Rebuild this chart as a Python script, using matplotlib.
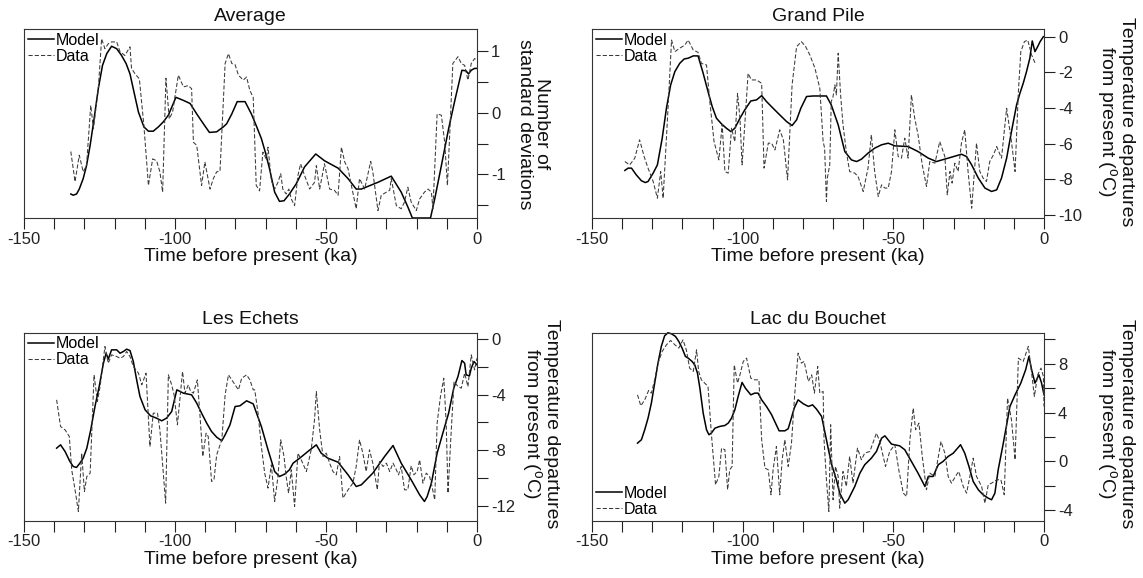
import numpy as np
import matplotlib
matplotlib.use("Agg")
import matplotlib.pyplot as plt

plt.rcParams['font.family'] = ['Liberation Sans', 'DejaVu Sans']
plt.rcParams['mathtext.default'] = 'regular'

# ---- Average (number of standard deviations) ----
avg_model_age = [-134.5, -133.7, -132.6, -131.7, -130.4, -129.3, -128.1, -126.8, -125.4, -124.0,
                 -122.6, -121.0, -119.3, -117.7, -116.2, -114.9, -113.6, -112.1, -110.3, -108.8,
                 -107.2, -105.5, -103.9, -102.2, -99.7, -97.2, -95.0, -92.8, -90.6, -88.6,
                 -86.2, -84.0, -82.9, -81.2, -79.4, -76.8, -74.7, -73.1, -71.4, -70.1,
                 -68.7, -67.0, -65.4, -63.9, -62.1, -59.8, -57.1, -53.4, -50.5, -46.0,
                 -42.7, -40.0, -38.3, -32.8, -28.4, -25.1, -22.9, -21.4, -15.4, -14.0,
                 -11.8, -9.4, -7.2, -5.0, -3.6, -2.8, -1.9, -0.8, 0.0]
avg_model = [-1.32, -1.34, -1.32, -1.24, -1.07, -0.86, -0.53, -0.10, 0.39, 0.77,
             0.96, 1.08, 1.04, 0.93, 0.80, 0.63, 0.34, 0.01, -0.23, -0.30,
             -0.30, -0.23, -0.15, -0.04, 0.25, 0.20, 0.15, -0.02, -0.18, -0.32,
             -0.31, -0.23, -0.18, -0.02, 0.18, 0.18, -0.02, -0.21, -0.42, -0.64,
             -0.91, -1.29, -1.44, -1.43, -1.32, -1.15, -0.88, -0.67, -0.78, -0.90,
             -1.07, -1.24, -1.24, -1.13, -1.03, -1.29, -1.53, -1.71, -1.71, -1.40,
             -0.86, -0.26, 0.23, 0.69, 0.68, 0.63, 0.69, 0.72, 0.72]
avg_data_age = [-134.5, -133.1, -131.7, -130.4, -129.3, -127.9, -127.0, -125.4, -124.3, -123.2,
                -122.1, -121.0, -119.3, -118.2, -116.6, -114.9, -114.4, -113.2, -111.8, -110.3,
                -108.8, -107.4, -106.1, -105.0, -104.1, -103.0, -101.9, -100.8, -98.9, -97.2,
                -95.6, -94.5, -93.9, -92.8, -91.2, -90.1, -88.4, -87.3, -86.2, -85.1,
                -83.4, -82.3, -81.2, -80.1, -79.0, -77.4, -76.3, -75.2, -74.1, -73.1,
                -72.0, -70.9, -69.8, -69.2, -68.1, -67.0, -65.9, -65.0, -64.3, -63.2,
                -62.3, -61.5, -60.4, -59.3, -58.4, -57.1, -55.4, -53.8, -53.2, -52.1,
                -50.5, -48.8, -47.2, -46.0, -44.9, -43.8, -42.7, -41.6, -40.0, -38.9,
                -37.2, -35.2, -34.5, -32.8, -31.7, -30.0, -28.9, -28.4, -26.7, -25.1,
                -24.0, -22.9, -21.8, -20.1, -19.0, -17.4, -16.2, -15.1, -14.6, -13.2,
                -11.8, -10.7, -9.8, -9.1, -8.0, -6.3, -5.2, -4.1, -3.0, -1.9, -0.8, 0.0]
avg_data = [-0.63, -1.12, -0.69, -0.96, -0.86, 0.12, -0.26, 0.39, 1.20, 1.04,
            1.12, 1.15, 1.15, 0.99, 0.93, 1.07, 0.72, 0.63, 0.55, -0.21,
            -1.18, -0.75, -0.78, -0.96, -1.29, 0.56, -0.10, 0.01, 0.61, 0.42,
            0.44, 0.39, -0.48, -0.53, -1.18, -0.80, -1.24, -1.07, -0.96, -0.95,
            0.80, 0.96, 0.80, 0.78, 0.61, 0.53, 0.58, 0.36, 0.25, -1.18,
            -1.27, -0.64, -0.75, -0.56, -1.10, -1.24, -1.13, -0.99, -1.24, -1.32,
            -1.24, -1.40, -1.51, -1.02, -0.83, -1.02, -1.24, -1.13, -0.86, -1.24,
            -0.83, -1.24, -1.26, -1.34, -0.56, -0.80, -0.91, -1.18, -1.56, -1.07,
            -1.24, -0.79, -0.96, -1.59, -1.34, -1.29, -1.26, -1.07, -1.51, -1.56,
            -1.45, -1.21, -1.45, -1.59, -1.40, -1.29, -1.24, -1.29, -1.56, -0.02,
            -0.04, -0.48, -1.18, -0.42, 0.80, 0.91, 0.80, 0.77, 0.53, 0.80, 0.88, 0.85]

# ---- Grand Pile (deg C) ----
gp_model_age = [-139.1, -138.0, -136.9, -135.3, -133.6, -132.3, -131.4, -129.7, -128.3, -126.7,
                -125.3, -123.9, -122.5, -120.9, -119.4, -118.1, -116.4, -114.8, -113.1, -111.5,
                -110.1, -108.7, -107.0, -105.4, -103.9, -102.6, -100.9, -99.3, -97.3, -95.4,
                -93.7, -92.1, -89.9, -87.7, -85.4, -83.6, -82.1, -80.7, -78.8, -76.6,
                -72.2, -70.6, -68.3, -66.1, -63.9, -62.2, -60.6, -58.4, -56.2, -53.9,
                -51.7, -49.5, -45.1, -41.8, -38.4, -35.7, -31.8, -27.4, -25.7, -24.0,
                -21.8, -19.6, -17.4, -15.7, -14.1, -12.4, -10.8, -9.1, -8.0, -6.9,
                -5.8, -4.7, -3.9, -3.0, -2.1, -1.3, -0.2]
gp_model = [-7.51, -7.38, -7.38, -7.76, -8.09, -8.19, -8.13, -7.66, -7.20, -5.70,
            -4.02, -2.71, -1.96, -1.50, -1.25, -1.21, -1.08, -1.08, -2.06, -3.08,
            -3.93, -4.58, -4.90, -5.14, -5.33, -5.14, -4.58, -4.11, -3.61, -3.55,
            -3.31, -3.64, -4.02, -4.39, -4.77, -4.99, -4.67, -4.02, -3.36, -3.33,
            -3.33, -3.83, -4.95, -6.45, -6.92, -7.01, -6.88, -6.54, -6.26, -6.07,
            -5.98, -6.13, -6.17, -6.45, -6.82, -7.01, -6.82, -6.60, -6.73, -7.20,
            -7.94, -8.50, -8.69, -8.60, -7.94, -6.82, -5.33, -3.83, -3.18, -2.62,
            -1.96, -1.21, -0.24, -0.84, -0.56, -0.28, 0.0]
gp_data_age = [-139.1, -137.5, -135.8, -134.2, -132.7, -131.4, -129.7, -128.3, -127.2, -126.4,
               -125.0, -123.6, -122.5, -120.9, -119.2, -118.1, -116.4, -114.8, -113.7, -112.0,
               -110.9, -109.5, -107.9, -106.8, -105.9, -104.8, -103.7, -102.6, -101.7, -100.9,
               -100.2, -99.3, -98.2, -97.1, -95.4, -94.6, -93.7, -92.9, -91.5, -90.4,
               -89.3, -87.7, -86.5, -85.1, -83.6, -82.1, -80.5, -79.1, -77.7, -76.0,
               -74.4, -73.3, -72.8, -72.2, -71.9, -71.1, -70.6, -70.0, -69.4, -68.9,
               -68.3, -67.5, -66.7, -65.6, -64.5, -62.8, -61.7, -60.0, -58.4, -57.3,
               -56.2, -55.0, -53.9, -52.8, -51.7, -50.6, -49.5, -48.4, -47.3, -46.2,
               -45.1, -44.0, -42.9, -41.8, -40.4, -39.0, -37.9, -36.2, -34.6, -32.9,
               -32.1, -31.2, -30.5, -29.6, -28.5, -27.4, -26.3, -25.2, -24.0, -22.4,
               -21.3, -20.2, -19.1, -18.0, -16.8, -15.7, -14.1, -12.4, -10.8, -9.6,
               -8.5, -7.7, -6.5, -5.4, -4.1, -2.8]
gp_data = [-7.01, -7.20, -6.82, -5.79, -6.73, -7.38, -8.13, -9.07, -7.57, -9.07,
           -4.77, -0.19, -0.84, -0.65, -0.47, -0.19, -0.75, -0.88, -1.50, -1.59,
           -3.64, -5.89, -6.92, -4.92, -7.57, -7.66, -5.14, -5.89, -3.18, -4.58,
           -7.20, -4.95, -2.06, -2.43, -2.43, -2.52, -2.62, -7.38, -5.98, -5.98,
           -6.36, -5.23, -5.79, -8.04, -2.71, -0.56, -0.28, -0.56, -1.03, -1.78,
           -2.90, -5.89, -6.26, -9.25, -7.94, -7.20, -3.64, -3.36, -2.71, -3.27,
           -0.93, -3.27, -4.95, -6.45, -7.57, -7.66, -7.85, -8.69, -7.38, -5.51,
           -7.57, -8.97, -8.32, -8.50, -8.50, -7.57, -5.23, -6.73, -6.82, -5.70,
           -6.82, -3.27, -4.58, -5.51, -7.20, -8.41, -7.01, -7.10, -5.89, -6.73,
           -8.88, -7.57, -8.22, -7.10, -7.57, -5.98, -5.23, -7.57, -9.63, -5.98,
           -7.57, -7.94, -8.13, -7.01, -6.64, -6.17, -6.82, -4.02, -5.89, -7.57,
           -3.08, -0.84, -0.28, -0.19, -1.03, -1.55]

# ---- Les Echets (deg C) ----
le_model_age = [-139.2, -137.9, -136.4, -134.8, -133.7, -132.6, -131.5, -130.4, -129.2, -127.9,
                -126.5, -125.1, -123.7, -122.8, -122.1, -121.0, -119.3, -118.2, -117.1, -116.0,
                -114.9, -113.8, -112.7, -111.6, -109.9, -108.1, -106.1, -104.4, -102.8, -101.1,
                -99.4, -97.2, -94.5, -92.8, -91.2, -89.5, -87.9, -86.2, -84.5, -83.4,
                -81.8, -80.1, -78.5, -76.3, -74.1, -71.4, -69.2, -67.0, -65.4, -63.7,
                -62.1, -60.9, -58.7, -56.0, -53.2, -51.6, -49.4, -46.0, -42.7, -40.0,
                -38.3, -34.5, -30.6, -27.8, -25.1, -21.8, -19.0, -17.4, -16.5, -15.1,
                -13.2, -11.0, -9.4, -7.7, -6.3, -5.0, -4.1, -3.6, -2.5, -1.9, -1.0, 0.0]
le_model = [-7.85, -7.61, -8.09, -8.81, -9.17, -9.24, -8.93, -8.57, -7.85, -6.53,
            -4.85, -3.41, -1.73, -1.01, -1.44, -0.77, -0.77, -1.01, -0.89, -0.72,
            -0.82, -1.61, -2.93, -4.13, -5.09, -5.52, -5.69, -5.88, -5.69, -5.21,
            -3.65, -3.89, -4.01, -4.61, -5.33, -6.05, -6.65, -7.06, -7.32, -6.89,
            -6.17, -4.85, -4.80, -4.44, -4.66, -6.29, -7.97, -9.53, -9.89, -9.72,
            -9.41, -8.93, -8.57, -8.09, -7.61, -8.21, -8.57, -8.86, -9.77, -10.61,
            -10.49, -9.65, -8.45, -7.66, -8.93, -10.13, -11.21, -11.69, -11.33, -10.37,
            -8.21, -6.53, -5.33, -3.53, -2.69, -1.54, -1.73, -2.57, -2.64, -2.09, -1.61, -1.85]
le_data_age = [-139.2, -137.9, -136.4, -135.0, -134.2, -133.1, -132.0, -130.9, -130.0, -129.2,
               -128.1, -126.8, -125.7, -124.8, -123.2, -122.1, -121.0, -119.3, -118.2, -117.1,
               -116.0, -114.9, -113.8, -112.1, -111.0, -109.6, -108.3, -107.2, -105.8, -105.0,
               -103.1, -102.2, -101.1, -100.3, -99.2, -98.3, -97.5, -96.7, -95.6, -94.8,
               -93.9, -92.6, -91.7, -90.8, -89.7, -89.0, -87.9, -87.1, -86.2, -84.5,
               -83.4, -82.3, -81.2, -80.1, -79.0, -77.9, -76.3, -75.2, -74.1, -73.6,
               -72.5, -71.4, -70.3, -69.2, -68.1, -67.0, -65.9, -65.0, -63.9, -63.2,
               -62.4, -61.5, -60.4, -59.3, -58.2, -56.5, -54.9, -53.8, -53.2, -52.1,
               -51.0, -49.9, -48.8, -47.7, -46.6, -45.5, -44.4, -42.7, -41.1, -40.0,
               -38.9, -37.8, -36.7, -35.6, -34.5, -33.0, -32.3, -31.1, -30.0, -28.9,
               -27.8, -26.7, -26.0, -25.1, -24.0, -22.9, -21.8, -20.9, -19.8, -19.0,
               -17.9, -16.8, -15.7, -14.9, -14.0, -13.2, -12.1, -11.0, -10.2, -9.6,
               -8.7, -7.6, -6.3, -5.2, -4.1, -3.0, -1.9, -0.8, 0.0]
le_data = [-4.37, -6.29, -6.53, -7.01, -9.41, -10.85, -12.41, -8.21, -10.97, -9.89,
           -9.65, -2.57, -4.49, -3.41, -0.53, -1.73, -1.13, -1.25, -1.37, -1.25,
           -0.89, -1.25, -1.97, -2.45, -3.29, -2.45, -7.73, -5.33, -5.33, -6.53,
           -11.81, -2.57, -3.29, -4.01, -6.17, -4.13, -2.33, -3.89, -3.29, -3.77,
           -3.89, -2.93, -5.57, -8.45, -6.77, -7.01, -10.25, -10.13, -8.33, -7.25,
           -4.01, -2.57, -2.93, -3.29, -3.65, -2.81, -2.57, -2.93, -3.65, -3.65,
           -5.33, -7.73, -9.65, -10.73, -9.05, -11.69, -9.89, -7.25, -8.45, -9.89,
           -11.09, -9.41, -12.05, -8.21, -8.69, -9.53, -7.97, -5.81, -3.77, -6.53,
           -8.45, -8.21, -8.93, -9.53, -9.77, -8.45, -11.45, -10.85, -10.37, -9.17,
           -7.25, -8.21, -9.53, -7.97, -8.93, -10.85, -8.81, -9.17, -8.93, -9.53,
           -8.93, -9.41, -9.77, -9.17, -10.85, -10.85, -9.12, -9.77, -9.53, -8.69,
           -10.37, -9.65, -9.89, -10.61, -11.57, -6.05, -4.13, -2.81, -6.05, -11.09,
           -7.25, -3.05, -3.41, -3.53, -2.45, -3.41, -1.13, -2.21, -1.37]

# ---- Lac du Bouchet (deg C) ----
lb_model_age = [-134.9, -133.6, -132.5, -131.4, -130.3, -129.2, -128.1, -127.0, -125.9, -124.8,
                -123.6, -122.3, -121.2, -120.1, -119.0, -118.1, -116.8, -115.9, -115.0, -114.2,
                -113.1, -112.0, -111.2, -110.4, -109.2, -107.6, -105.9, -104.8, -103.7, -102.6,
                -101.5, -100.2, -99.1, -97.3, -96.0, -94.9, -93.7, -92.1, -90.4, -89.1,
                -87.9, -86.0, -84.9, -84.0, -82.9, -81.6, -79.9, -78.2, -76.8, -75.5,
                -73.8, -72.2, -70.6, -68.9, -67.8, -66.1, -65.0, -62.8, -61.1, -59.5,
                -57.3, -55.6, -53.9, -52.8, -50.6, -47.9, -46.2, -44.0, -41.8, -39.5,
                -38.4, -36.8, -35.1, -33.5, -31.8, -30.1, -27.7, -26.3, -24.9, -23.5,
                -21.8, -20.2, -18.5, -17.4, -16.3, -15.2, -13.5, -11.3, -9.6, -7.7,
                -6.1, -5.0, -4.1, -3.0, -1.7, -0.8, 0.0]
lb_model = [1.50, 1.78, 2.60, 3.55, 4.78, 6.42, 8.06, 9.43, 10.30, 10.55,
            10.46, 10.25, 9.84, 9.29, 8.61, 8.47, 8.20, 7.92, 7.24, 6.01,
            3.96, 2.60, 2.19, 2.32, 2.73, 2.87, 2.95, 3.14, 3.55, 4.23,
            5.33, 6.48, 6.01, 5.46, 5.60, 5.60, 5.05, 4.51, 3.83, 3.14,
            2.51, 2.51, 2.68, 3.42, 4.37, 5.05, 4.73, 4.51, 4.64, 4.29,
            3.69, 1.78, -0.14, -1.50, -2.60, -3.42, -3.14, -2.05, -0.96, -0.27,
            0.27, 0.82, 1.91, 2.10, 1.42, 1.28, 0.96, 0.0, -0.96, -2.05,
            -1.23, -1.23, -0.27, 0.0, 0.41, 0.68, 1.37, 0.68, -0.41, -1.64,
            -2.32, -2.73, -3.01, -3.14, -2.60, -0.68, 1.50, 4.51, 5.46, 6.42,
            7.51, 8.61, 7.51, 6.42, 7.10, 6.42, 5.46]
lb_data_age = [-134.9, -133.8, -132.5, -131.2, -130.3, -129.2, -128.1, -126.7, -125.3, -123.9,
               -122.5, -121.2, -119.8, -118.7, -117.6, -116.4, -115.3, -114.6, -113.7, -112.6,
               -111.5, -110.4, -109.0, -107.9, -107.0, -105.9, -105.0, -104.3, -103.5, -102.8,
               -101.7, -100.9, -99.8, -98.7, -97.3, -96.0, -94.6, -93.7, -92.6, -91.5,
               -90.6, -89.9, -88.8, -87.7, -86.9, -86.0, -84.9, -83.8, -82.7, -81.6,
               -80.5, -79.6, -78.2, -77.1, -76.2, -75.1, -74.4, -73.3, -73.0, -72.2,
               -71.4, -70.8, -70.0, -69.2, -68.3, -67.8, -66.7, -65.6, -64.5, -63.4,
               -61.9, -60.6, -59.5, -57.8, -55.6, -54.5, -52.6, -51.2, -49.5, -48.2,
               -46.7, -45.6, -44.5, -43.4, -42.6, -41.5, -40.4, -39.0, -37.9, -36.2,
               -34.2, -32.9, -31.8, -30.7, -29.4, -28.3, -26.8, -25.7, -24.6, -23.5,
               -22.4, -20.7, -19.6, -18.5, -17.4, -15.7, -14.3, -13.2, -12.1, -10.8,
               -9.6, -8.5, -6.9, -5.2, -4.1, -3.2, -2.1, -1.0, -0.2, 0.0]
lb_data = [5.46, 4.56, 5.05, 5.82, 5.60, 6.69, 8.06, 9.02, 9.56, 9.92,
           9.56, 9.29, 9.97, 9.15, 7.65, 7.38, 9.15, 7.38, 6.69, 6.42,
           6.15, 2.32, -1.91, -1.23, 1.09, 0.96, -2.32, -0.68, -0.41, 7.92,
           6.42, 7.10, 8.20, 8.47, 6.83, 6.69, 6.69, 1.78, -0.55, -0.68,
           -2.73, -0.68, 1.23, -2.73, 0.14, 1.78, -0.41, 1.50, 5.60, 8.88,
           8.06, 8.20, 6.56, 7.10, 5.60, 7.79, 5.60, 5.74, 1.78, -1.50,
           -4.10, 3.01, -3.14, -0.41, -1.23, -3.83, -0.82, -2.05, 0.41, -1.78,
           1.09, 0.14, 0.68, 0.82, 2.32, 1.64, -0.41, 0.82, 1.37, -0.68,
           -2.60, -2.87, 1.78, 4.37, 2.60, 3.14, 0.41, -2.32, -0.96, -1.23,
           1.64, 0.68, -1.23, -1.78, -1.23, -0.82, -2.05, -2.60, -1.23, 0.27,
           -1.23, -2.05, -3.42, -1.91, -1.78, -1.50, -1.50, -2.73, 5.19, 3.42,
           0.14, 8.47, 8.20, 9.43, 7.24, 5.33, 7.10, 7.65, 6.97, 4.51]

W, H = 1143, 578
fig = plt.figure(figsize=(W / 100, H / 100), dpi=100)


def make_ax(left, right, top, bottom):
    return fig.add_axes([left / W, 1 - bottom / H, (right - left) / W, (bottom - top) / H])


temp_label = 'Temperature departures\nfrom present ($^{o}$C)'
panels = [
    dict(box=(24, 477, 29, 218), title='Average', model=(avg_model_age, avg_model),
         data=(avg_data_age, avg_data), ylim=(-1.71, 1.36),
         yticks=[1, 0.5, 0, -0.5, -1, -1.5], ylabels=['1', '', '0', '', '-1', ''],
         ylab='Number of\nstandard deviations', ylab_xy=(533, 124), leg='upper left'),
    dict(box=(592, 1044, 29, 218), title='Grand Pile', model=(gp_model_age, gp_model),
         data=(gp_data_age, gp_data), ylim=(-10.18, 0.43),
         yticks=[0, -2, -4, -6, -8, -10], ylabels=['0', '-2', '-4', '-6', '-8', '-10'],
         ylab=temp_label, ylab_xy=(1115, 122), leg='upper left'),
    dict(box=(24, 477, 332.5, 520.5), title='Les Echets', model=(le_model_age, le_model),
         data=(le_data_age, le_data), ylim=(-13.06, 0.48),
         yticks=[0, -2, -4, -6, -8, -10, -12], ylabels=['0', '', '-4', '', '-8', '', '-12'],
         ylab=temp_label, ylab_xy=(540, 424), leg='upper left'),
    dict(box=(592, 1044, 332.5, 520.5), title='Lac du Bouchet', model=(lb_model_age, lb_model),
         data=(lb_data_age, lb_data), ylim=(-4.84, 10.57),
         yticks=[10, 8, 6, 4, 2, 0, -2, -4], ylabels=['', '8', '', '4', '', '0', '', '-4'],
         ylab=temp_label, ylab_xy=(1115, 424), leg='lower left'),
]

xticks = np.arange(-150, 1, 10)
xlabels = [str(v) if v % 50 == 0 else '' for v in xticks]

for p in panels:
    ax = make_ax(*p['box'])
    ax.plot(p['model'][0], p['model'][1], color='black', lw=1.1, label='Model', clip_on=False)
    ax.plot(p['data'][0], p['data'][1], color='#3a3a3a', lw=0.75, dashes=(4, 2),
            label='Data', clip_on=False)
    ax.set_xlim(-150, 0)
    ax.set_ylim(*p['ylim'])
    ax.set_xticks(xticks)
    ax.set_xticklabels(xlabels)
    ax.set_yticks(p['yticks'])
    ax.set_yticklabels(p['ylabels'])
    ax.tick_params(axis='x', direction='out', length=8, width=0.8, pad=2,
                   labelsize=12, colors='#222222')
    ax.tick_params(axis='y', left=False, labelleft=False, right=True, labelright=True,
                   direction='out', length=8, width=0.8, pad=2, labelsize=12,
                   colors='#222222')
    for s in ax.spines.values():
        s.set_linewidth(0.8)
        s.set_color('#333333')
    ax.set_title(p['title'], fontsize=14, pad=6, color='#111111')
    ax.set_xlabel('Time before present (ka)', fontsize=14, labelpad=1, color='#111111')
    fig.text(p['ylab_xy'][0] / W, 1 - p['ylab_xy'][1] / H, p['ylab'], rotation=-90,
             ha='center', va='center', multialignment='center', fontsize=14,
             linespacing=0.95, color='#111111')
    ax.legend(loc=p['leg'], frameon=False, fontsize=11.5, handlelength=1.6,
              handletextpad=0.15, labelspacing=0.05, borderaxespad=0.15, borderpad=0.1)

fig.savefig('out.png', dpi=100)
